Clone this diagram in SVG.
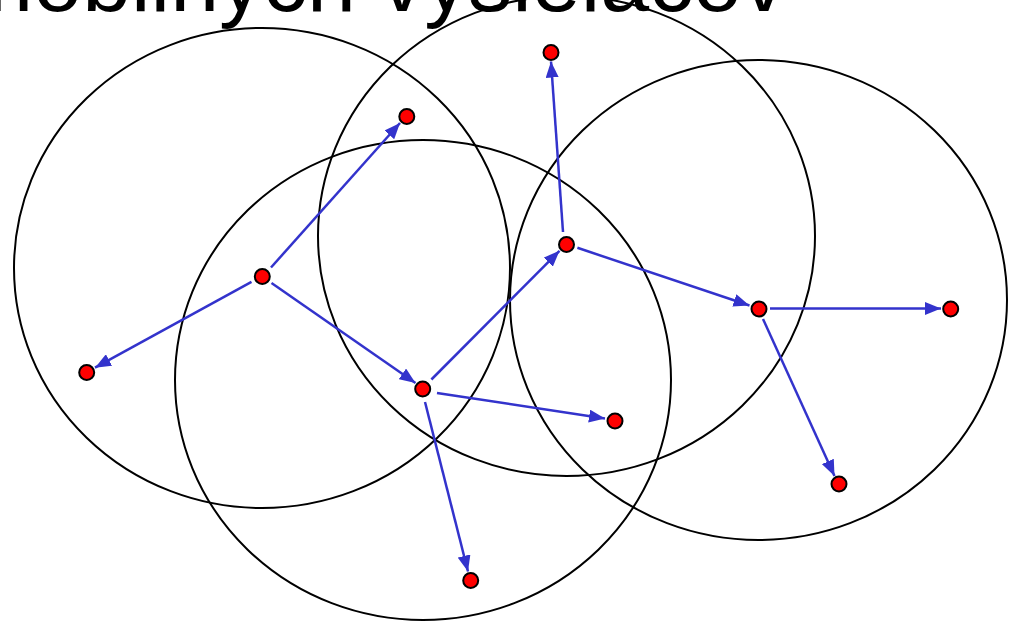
<svg xmlns="http://www.w3.org/2000/svg" width="1015" height="623" viewBox="0 0 1015 623">
<style>
.range{fill:none;stroke:#000;stroke-width:2}
.node{fill:#FF0000;stroke:#000;stroke-width:2}
.link{stroke:#3333CC;stroke-width:2.5;fill:none;marker-end:url(#ah)}
.title{font-family:"Liberation Sans",Arial,sans-serif;font-size:88px;fill:#000}
</style>
<defs>
<marker id="ah" markerUnits="userSpaceOnUse" markerWidth="17" markerHeight="13" refX="16" refY="6.5" orient="auto">
<path d="M0,0 L16,6.5 L0,13 z" fill="#3333CC"/>
</marker>
</defs>
<rect width="1015" height="623" fill="#fff"/>
<text class="title" x="-40" y="11" textLength="826" lengthAdjust="spacingAndGlyphs">mobilných vysielačov</text>
<g id="ranges">
<ellipse class="range" cx="262" cy="268" rx="248" ry="240"/>
<ellipse class="range" cx="566.5" cy="236" rx="248.5" ry="240"/>
<ellipse class="range" cx="423" cy="380" rx="248" ry="240"/>
<ellipse class="range" cx="758.5" cy="300" rx="248.5" ry="240"/>
</g>
<g id="connectors">
<line class="link" x1="271" y1="267.5" x2="400" y2="123"/>
<line class="link" x1="251.5" y1="281.8" x2="95" y2="367.7"/>
<line class="link" x1="271.5" y1="283" x2="415.5" y2="383"/>
<line class="link" x1="431.4" y1="379.5" x2="559.5" y2="250.8"/>
<line class="link" x1="563" y1="232" x2="551" y2="61.5"/>
<line class="link" x1="577.4" y1="247.8" x2="749.5" y2="305.5"/>
<line class="link" x1="770" y1="308.5" x2="941" y2="308.5"/>
<line class="link" x1="763" y1="319" x2="834.5" y2="476"/>
<line class="link" x1="437" y1="393" x2="605" y2="418.5"/>
<line class="link" x1="425" y1="402" x2="468" y2="571.5"/>
</g>
<g id="nA"><circle class="node" cx="262.3" cy="276.5" r="7.5"/></g>
<g id="nB"><circle class="node" cx="406.8" cy="116.5" r="7.5"/></g>
<g id="nC"><circle class="node" cx="86.7" cy="372.5" r="7.5"/></g>
<g id="nD"><circle class="node" cx="422.7" cy="389" r="7.5"/></g>
<g id="nE"><circle class="node" cx="566.5" cy="244.5" r="7.5"/></g>
<g id="nF"><circle class="node" cx="551" cy="52.5" r="7.5"/></g>
<g id="nG"><circle class="node" cx="759" cy="309" r="7.5"/></g>
<g id="nH"><circle class="node" cx="950.7" cy="309" r="7.5"/></g>
<g id="nI"><circle class="node" cx="615" cy="421" r="7.5"/></g>
<g id="nJ"><circle class="node" cx="470.7" cy="580.5" r="7.5"/></g>
<g id="nK"><circle class="node" cx="839" cy="484" r="7.5"/></g>
</svg>
